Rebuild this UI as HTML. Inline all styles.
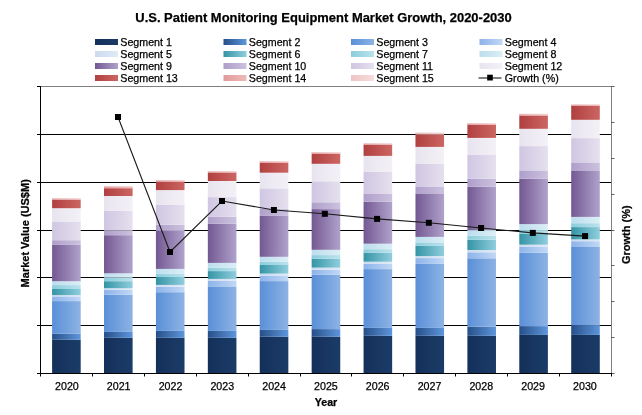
<!DOCTYPE html>
<html lang="en"><head><meta charset="utf-8"><title>U.S. Patient Monitoring Equipment Market Growth, 2020-2030</title>
<style>html,body{margin:0;padding:0;background:#fff}body{width:642px;height:415px;overflow:hidden}svg{display:block}text{font-family:"Liberation Sans",Arial,sans-serif;fill:#000;stroke:#000;stroke-width:0.25px}.b{font-weight:bold}</style></head><body>
<svg width="642" height="415" viewBox="0 0 642 415">
<defs>
<linearGradient id="g1" x1="0" y1="0" x2="1" y2="0"><stop offset="0" stop-color="#14305a"/><stop offset="1" stop-color="#1b3c68"/></linearGradient>
<linearGradient id="g2" x1="0" y1="0" x2="1" y2="0"><stop offset="0" stop-color="#264f88"/><stop offset="1" stop-color="#5e96dc"/></linearGradient>
<linearGradient id="g3" x1="0" y1="0" x2="1" y2="0"><stop offset="0" stop-color="#5a8fd8"/><stop offset="1" stop-color="#8db3e4"/></linearGradient>
<linearGradient id="g4" x1="0" y1="0" x2="1" y2="0"><stop offset="0" stop-color="#8cb3ea"/><stop offset="1" stop-color="#c2d8f6"/></linearGradient>
<linearGradient id="g5" x1="0" y1="0" x2="1" y2="0"><stop offset="0" stop-color="#cbdaee"/><stop offset="1" stop-color="#e0eaf7"/></linearGradient>
<linearGradient id="g6" x1="0" y1="0" x2="1" y2="0"><stop offset="0" stop-color="#3494a4"/><stop offset="1" stop-color="#90cede"/></linearGradient>
<linearGradient id="g7" x1="0" y1="0" x2="1" y2="0"><stop offset="0" stop-color="#8ccddc"/><stop offset="1" stop-color="#bae2ec"/></linearGradient>
<linearGradient id="g8" x1="0" y1="0" x2="1" y2="0"><stop offset="0" stop-color="#bcdeee"/><stop offset="1" stop-color="#dceef6"/></linearGradient>
<linearGradient id="g9" x1="0" y1="0" x2="1" y2="0"><stop offset="0" stop-color="#735892"/><stop offset="1" stop-color="#b0a2cb"/></linearGradient>
<linearGradient id="g10" x1="0" y1="0" x2="1" y2="0"><stop offset="0" stop-color="#ae9eca"/><stop offset="1" stop-color="#ccc2de"/></linearGradient>
<linearGradient id="g11" x1="0" y1="0" x2="1" y2="0"><stop offset="0" stop-color="#d0c6e2"/><stop offset="1" stop-color="#e5e0ee"/></linearGradient>
<linearGradient id="g12" x1="0" y1="0" x2="1" y2="0"><stop offset="0" stop-color="#e8e4ef"/><stop offset="1" stop-color="#f3f1f6"/></linearGradient>
<linearGradient id="g13" x1="0" y1="0" x2="1" y2="0"><stop offset="0" stop-color="#b04040"/><stop offset="1" stop-color="#cc6662"/></linearGradient>
<linearGradient id="g14" x1="0" y1="0" x2="1" y2="0"><stop offset="0" stop-color="#e29a9a"/><stop offset="1" stop-color="#eebaba"/></linearGradient>
<linearGradient id="g15" x1="0" y1="0" x2="1" y2="0"><stop offset="0" stop-color="#eec4c4"/><stop offset="1" stop-color="#f7dddd"/></linearGradient>
</defs>
<rect width="642" height="415" fill="#fff"/>
<text class="b" x="323.5" y="21.9" font-size="13.3" textLength="376.4" lengthAdjust="spacingAndGlyphs" text-anchor="middle">U.S. Patient Monitoring Equipment Market Growth, 2020-2030</text>
<rect x="95" y="39" width="23" height="6" fill="url(#g1)"/>
<text x="120.3" y="45.5" font-size="10.67">Segment 1</text>
<rect x="223.5" y="39" width="23" height="6" fill="url(#g2)"/>
<text x="248.8" y="45.5" font-size="10.67">Segment 2</text>
<rect x="351" y="39" width="23" height="6" fill="url(#g3)"/>
<text x="376.3" y="45.5" font-size="10.67">Segment 3</text>
<rect x="479.5" y="39" width="23" height="6" fill="url(#g4)"/>
<text x="504.8" y="45.5" font-size="10.67">Segment 4</text>
<rect x="95" y="51" width="23" height="6" fill="url(#g5)"/>
<text x="120.3" y="57.5" font-size="10.67">Segment 5</text>
<rect x="223.5" y="51" width="23" height="6" fill="url(#g6)"/>
<text x="248.8" y="57.5" font-size="10.67">Segment 6</text>
<rect x="351" y="51" width="23" height="6" fill="url(#g7)"/>
<text x="376.3" y="57.5" font-size="10.67">Segment 7</text>
<rect x="479.5" y="51" width="23" height="6" fill="url(#g8)"/>
<text x="504.8" y="57.5" font-size="10.67">Segment 8</text>
<rect x="95" y="63" width="23" height="6" fill="url(#g9)"/>
<text x="120.3" y="69.5" font-size="10.67">Segment 9</text>
<rect x="223.5" y="63" width="23" height="6" fill="url(#g10)"/>
<text x="248.8" y="69.5" font-size="10.67">Segment 10</text>
<rect x="351" y="63" width="23" height="6" fill="url(#g11)"/>
<text x="376.3" y="69.5" font-size="10.67">Segment 11</text>
<rect x="479.5" y="63" width="23" height="6" fill="url(#g12)"/>
<text x="504.8" y="69.5" font-size="10.67">Segment 12</text>
<rect x="95" y="75" width="23" height="6" fill="url(#g13)"/>
<text x="120.3" y="81.5" font-size="10.67">Segment 13</text>
<rect x="223.5" y="75" width="23" height="6" fill="url(#g14)"/>
<text x="248.8" y="81.5" font-size="10.67">Segment 14</text>
<rect x="351" y="75" width="23" height="6" fill="url(#g15)"/>
<text x="376.3" y="81.5" font-size="10.67">Segment 15</text>
<line x1="478.5" y1="78" x2="501.5" y2="78" stroke="#000" stroke-width="1"/>
<rect x="487.2" y="74.7" width="5.6" height="5.8" fill="#000"/>
<text x="504.8" y="81.5" font-size="10.67">Growth (%)</text>
<line x1="40" y1="86.5" x2="612" y2="86.5" stroke="#808080" stroke-width="1"/>
<line x1="611.5" y1="86" x2="611.5" y2="374" stroke="#808080" stroke-width="1"/>
<line x1="40" y1="134.50" x2="611" y2="134.50" stroke="#000" stroke-width="1"/>
<line x1="40" y1="182.50" x2="611" y2="182.50" stroke="#000" stroke-width="1"/>
<line x1="40" y1="230.50" x2="611" y2="230.50" stroke="#000" stroke-width="1"/>
<line x1="40" y1="277.50" x2="611" y2="277.50" stroke="#000" stroke-width="1"/>
<line x1="40" y1="325.50" x2="611" y2="325.50" stroke="#000" stroke-width="1"/>
<rect x="52.10" y="339.80" width="28.6" height="33.20" fill="url(#g1)"/>
<rect x="52.10" y="333.80" width="28.6" height="6.00" fill="url(#g2)"/>
<rect x="52.10" y="301.10" width="28.6" height="32.70" fill="url(#g3)"/>
<rect x="52.10" y="296.40" width="28.6" height="4.70" fill="url(#g4)"/>
<rect x="52.10" y="295.10" width="28.6" height="1.30" fill="url(#g5)"/>
<rect x="52.10" y="289.00" width="28.6" height="6.10" fill="url(#g6)"/>
<rect x="52.10" y="285.10" width="28.6" height="3.90" fill="url(#g7)"/>
<rect x="52.10" y="281.20" width="28.6" height="3.90" fill="url(#g8)"/>
<rect x="52.10" y="244.90" width="28.6" height="36.30" fill="url(#g9)"/>
<rect x="52.10" y="240.20" width="28.6" height="4.70" fill="url(#g10)"/>
<rect x="52.10" y="222.00" width="28.6" height="18.20" fill="url(#g11)"/>
<rect x="52.10" y="208.20" width="28.6" height="13.80" fill="url(#g12)"/>
<rect x="52.10" y="199.90" width="28.6" height="8.30" fill="url(#g13)"/>
<rect x="52.10" y="198.00" width="28.6" height="1.90" fill="url(#g14)"/>
<rect x="52.10" y="198.00" width="28.6" height="0.95" fill="url(#g15)"/>
<rect x="104.01" y="337.80" width="28.6" height="35.20" fill="url(#g1)"/>
<rect x="104.01" y="331.90" width="28.6" height="5.90" fill="url(#g2)"/>
<rect x="104.01" y="294.80" width="28.6" height="37.10" fill="url(#g3)"/>
<rect x="104.01" y="289.80" width="28.6" height="5.00" fill="url(#g4)"/>
<rect x="104.01" y="288.20" width="28.6" height="1.60" fill="url(#g5)"/>
<rect x="104.01" y="281.20" width="28.6" height="7.00" fill="url(#g6)"/>
<rect x="104.01" y="277.60" width="28.6" height="3.60" fill="url(#g7)"/>
<rect x="104.01" y="273.30" width="28.6" height="4.30" fill="url(#g8)"/>
<rect x="104.01" y="235.20" width="28.6" height="38.10" fill="url(#g9)"/>
<rect x="104.01" y="230.50" width="28.6" height="4.70" fill="url(#g10)"/>
<rect x="104.01" y="210.90" width="28.6" height="19.60" fill="url(#g11)"/>
<rect x="104.01" y="196.00" width="28.6" height="14.90" fill="url(#g12)"/>
<rect x="104.01" y="188.20" width="28.6" height="7.80" fill="url(#g13)"/>
<rect x="104.01" y="186.30" width="28.6" height="1.90" fill="url(#g14)"/>
<rect x="104.01" y="186.30" width="28.6" height="0.95" fill="url(#g15)"/>
<rect x="155.92" y="337.80" width="28.6" height="35.20" fill="url(#g1)"/>
<rect x="155.92" y="330.90" width="28.6" height="6.90" fill="url(#g2)"/>
<rect x="155.92" y="292.20" width="28.6" height="38.70" fill="url(#g3)"/>
<rect x="155.92" y="286.70" width="28.6" height="5.50" fill="url(#g4)"/>
<rect x="155.92" y="284.90" width="28.6" height="1.80" fill="url(#g5)"/>
<rect x="155.92" y="277.00" width="28.6" height="7.90" fill="url(#g6)"/>
<rect x="155.92" y="273.90" width="28.6" height="3.10" fill="url(#g7)"/>
<rect x="155.92" y="268.90" width="28.6" height="5.00" fill="url(#g8)"/>
<rect x="155.92" y="230.90" width="28.6" height="38.00" fill="url(#g9)"/>
<rect x="155.92" y="224.80" width="28.6" height="6.10" fill="url(#g10)"/>
<rect x="155.92" y="205.00" width="28.6" height="19.80" fill="url(#g11)"/>
<rect x="155.92" y="190.10" width="28.6" height="14.90" fill="url(#g12)"/>
<rect x="155.92" y="181.50" width="28.6" height="8.60" fill="url(#g13)"/>
<rect x="155.92" y="180.20" width="28.6" height="1.30" fill="url(#g14)"/>
<rect x="155.92" y="180.20" width="28.6" height="0.65" fill="url(#g15)"/>
<rect x="207.83" y="337.80" width="28.6" height="35.20" fill="url(#g1)"/>
<rect x="207.83" y="330.90" width="28.6" height="6.90" fill="url(#g2)"/>
<rect x="207.83" y="286.40" width="28.6" height="44.50" fill="url(#g3)"/>
<rect x="207.83" y="280.90" width="28.6" height="5.50" fill="url(#g4)"/>
<rect x="207.83" y="278.90" width="28.6" height="2.00" fill="url(#g5)"/>
<rect x="207.83" y="271.10" width="28.6" height="7.80" fill="url(#g6)"/>
<rect x="207.83" y="267.60" width="28.6" height="3.50" fill="url(#g7)"/>
<rect x="207.83" y="262.90" width="28.6" height="4.70" fill="url(#g8)"/>
<rect x="207.83" y="223.60" width="28.6" height="39.30" fill="url(#g9)"/>
<rect x="207.83" y="216.80" width="28.6" height="6.80" fill="url(#g10)"/>
<rect x="207.83" y="197.10" width="28.6" height="19.70" fill="url(#g11)"/>
<rect x="207.83" y="181.00" width="28.6" height="16.10" fill="url(#g12)"/>
<rect x="207.83" y="172.50" width="28.6" height="8.50" fill="url(#g13)"/>
<rect x="207.83" y="171.30" width="28.6" height="1.20" fill="url(#g14)"/>
<rect x="207.83" y="171.30" width="28.6" height="0.60" fill="url(#g15)"/>
<rect x="259.74" y="336.80" width="28.6" height="36.20" fill="url(#g1)"/>
<rect x="259.74" y="329.90" width="28.6" height="6.90" fill="url(#g2)"/>
<rect x="259.74" y="281.10" width="28.6" height="48.80" fill="url(#g3)"/>
<rect x="259.74" y="275.50" width="28.6" height="5.60" fill="url(#g4)"/>
<rect x="259.74" y="273.60" width="28.6" height="1.90" fill="url(#g5)"/>
<rect x="259.74" y="265.00" width="28.6" height="8.60" fill="url(#g6)"/>
<rect x="259.74" y="261.80" width="28.6" height="3.20" fill="url(#g7)"/>
<rect x="259.74" y="256.80" width="28.6" height="5.00" fill="url(#g8)"/>
<rect x="259.74" y="215.90" width="28.6" height="40.90" fill="url(#g9)"/>
<rect x="259.74" y="208.80" width="28.6" height="7.10" fill="url(#g10)"/>
<rect x="259.74" y="188.40" width="28.6" height="20.40" fill="url(#g11)"/>
<rect x="259.74" y="172.70" width="28.6" height="15.70" fill="url(#g12)"/>
<rect x="259.74" y="162.90" width="28.6" height="9.80" fill="url(#g13)"/>
<rect x="259.74" y="161.00" width="28.6" height="1.90" fill="url(#g14)"/>
<rect x="259.74" y="161.00" width="28.6" height="0.95" fill="url(#g15)"/>
<rect x="311.65" y="336.80" width="28.6" height="36.20" fill="url(#g1)"/>
<rect x="311.65" y="329.10" width="28.6" height="7.70" fill="url(#g2)"/>
<rect x="311.65" y="274.80" width="28.6" height="54.30" fill="url(#g3)"/>
<rect x="311.65" y="269.70" width="28.6" height="5.10" fill="url(#g4)"/>
<rect x="311.65" y="267.60" width="28.6" height="2.10" fill="url(#g5)"/>
<rect x="311.65" y="258.70" width="28.6" height="8.90" fill="url(#g6)"/>
<rect x="311.65" y="255.10" width="28.6" height="3.60" fill="url(#g7)"/>
<rect x="311.65" y="249.80" width="28.6" height="5.30" fill="url(#g8)"/>
<rect x="311.65" y="209.10" width="28.6" height="40.70" fill="url(#g9)"/>
<rect x="311.65" y="202.30" width="28.6" height="6.80" fill="url(#g10)"/>
<rect x="311.65" y="181.30" width="28.6" height="21.00" fill="url(#g11)"/>
<rect x="311.65" y="163.80" width="28.6" height="17.50" fill="url(#g12)"/>
<rect x="311.65" y="153.90" width="28.6" height="9.90" fill="url(#g13)"/>
<rect x="311.65" y="152.00" width="28.6" height="1.90" fill="url(#g14)"/>
<rect x="311.65" y="152.00" width="28.6" height="0.95" fill="url(#g15)"/>
<rect x="363.56" y="335.80" width="28.6" height="37.20" fill="url(#g1)"/>
<rect x="363.56" y="327.90" width="28.6" height="7.90" fill="url(#g2)"/>
<rect x="363.56" y="269.10" width="28.6" height="58.80" fill="url(#g3)"/>
<rect x="363.56" y="263.90" width="28.6" height="5.20" fill="url(#g4)"/>
<rect x="363.56" y="261.70" width="28.6" height="2.20" fill="url(#g5)"/>
<rect x="363.56" y="252.60" width="28.6" height="9.10" fill="url(#g6)"/>
<rect x="363.56" y="249.20" width="28.6" height="3.40" fill="url(#g7)"/>
<rect x="363.56" y="243.70" width="28.6" height="5.50" fill="url(#g8)"/>
<rect x="363.56" y="201.80" width="28.6" height="41.90" fill="url(#g9)"/>
<rect x="363.56" y="194.00" width="28.6" height="7.80" fill="url(#g10)"/>
<rect x="363.56" y="171.80" width="28.6" height="22.20" fill="url(#g11)"/>
<rect x="363.56" y="155.90" width="28.6" height="15.90" fill="url(#g12)"/>
<rect x="363.56" y="144.60" width="28.6" height="11.30" fill="url(#g13)"/>
<rect x="363.56" y="143.50" width="28.6" height="1.10" fill="url(#g14)"/>
<rect x="363.56" y="143.50" width="28.6" height="0.55" fill="url(#g15)"/>
<rect x="415.47" y="335.80" width="28.6" height="37.20" fill="url(#g1)"/>
<rect x="415.47" y="327.90" width="28.6" height="7.90" fill="url(#g2)"/>
<rect x="415.47" y="263.90" width="28.6" height="64.00" fill="url(#g3)"/>
<rect x="415.47" y="258.10" width="28.6" height="5.80" fill="url(#g4)"/>
<rect x="415.47" y="256.10" width="28.6" height="2.00" fill="url(#g5)"/>
<rect x="415.47" y="245.90" width="28.6" height="10.20" fill="url(#g6)"/>
<rect x="415.47" y="242.40" width="28.6" height="3.50" fill="url(#g7)"/>
<rect x="415.47" y="236.90" width="28.6" height="5.50" fill="url(#g8)"/>
<rect x="415.47" y="194.00" width="28.6" height="42.90" fill="url(#g9)"/>
<rect x="415.47" y="187.00" width="28.6" height="7.00" fill="url(#g10)"/>
<rect x="415.47" y="163.90" width="28.6" height="23.10" fill="url(#g11)"/>
<rect x="415.47" y="146.90" width="28.6" height="17.00" fill="url(#g12)"/>
<rect x="415.47" y="134.70" width="28.6" height="12.20" fill="url(#g13)"/>
<rect x="415.47" y="132.80" width="28.6" height="1.90" fill="url(#g14)"/>
<rect x="415.47" y="132.80" width="28.6" height="0.95" fill="url(#g15)"/>
<rect x="467.38" y="335.80" width="28.6" height="37.20" fill="url(#g1)"/>
<rect x="467.38" y="326.60" width="28.6" height="9.20" fill="url(#g2)"/>
<rect x="467.38" y="258.30" width="28.6" height="68.30" fill="url(#g3)"/>
<rect x="467.38" y="252.30" width="28.6" height="6.00" fill="url(#g4)"/>
<rect x="467.38" y="250.00" width="28.6" height="2.30" fill="url(#g5)"/>
<rect x="467.38" y="239.80" width="28.6" height="10.20" fill="url(#g6)"/>
<rect x="467.38" y="235.90" width="28.6" height="3.90" fill="url(#g7)"/>
<rect x="467.38" y="230.10" width="28.6" height="5.80" fill="url(#g8)"/>
<rect x="467.38" y="186.80" width="28.6" height="43.30" fill="url(#g9)"/>
<rect x="467.38" y="178.70" width="28.6" height="8.10" fill="url(#g10)"/>
<rect x="467.38" y="155.00" width="28.6" height="23.70" fill="url(#g11)"/>
<rect x="467.38" y="137.90" width="28.6" height="17.10" fill="url(#g12)"/>
<rect x="467.38" y="124.90" width="28.6" height="13.00" fill="url(#g13)"/>
<rect x="467.38" y="123.00" width="28.6" height="1.90" fill="url(#g14)"/>
<rect x="467.38" y="123.00" width="28.6" height="0.95" fill="url(#g15)"/>
<rect x="519.29" y="334.90" width="28.6" height="38.10" fill="url(#g1)"/>
<rect x="519.29" y="326.10" width="28.6" height="8.80" fill="url(#g2)"/>
<rect x="519.29" y="252.80" width="28.6" height="73.30" fill="url(#g3)"/>
<rect x="519.29" y="247.00" width="28.6" height="5.80" fill="url(#g4)"/>
<rect x="519.29" y="244.70" width="28.6" height="2.30" fill="url(#g5)"/>
<rect x="519.29" y="234.00" width="28.6" height="10.70" fill="url(#g6)"/>
<rect x="519.29" y="230.10" width="28.6" height="3.90" fill="url(#g7)"/>
<rect x="519.29" y="224.10" width="28.6" height="6.00" fill="url(#g8)"/>
<rect x="519.29" y="178.70" width="28.6" height="45.40" fill="url(#g9)"/>
<rect x="519.29" y="170.40" width="28.6" height="8.30" fill="url(#g10)"/>
<rect x="519.29" y="146.10" width="28.6" height="24.30" fill="url(#g11)"/>
<rect x="519.29" y="128.80" width="28.6" height="17.30" fill="url(#g12)"/>
<rect x="519.29" y="115.50" width="28.6" height="13.30" fill="url(#g13)"/>
<rect x="519.29" y="113.90" width="28.6" height="1.60" fill="url(#g14)"/>
<rect x="519.29" y="113.90" width="28.6" height="0.80" fill="url(#g15)"/>
<rect x="571.20" y="334.90" width="28.6" height="38.10" fill="url(#g1)"/>
<rect x="571.20" y="325.10" width="28.6" height="9.80" fill="url(#g2)"/>
<rect x="571.20" y="247.00" width="28.6" height="78.10" fill="url(#g3)"/>
<rect x="571.20" y="241.20" width="28.6" height="5.80" fill="url(#g4)"/>
<rect x="571.20" y="239.40" width="28.6" height="1.80" fill="url(#g5)"/>
<rect x="571.20" y="227.10" width="28.6" height="12.30" fill="url(#g6)"/>
<rect x="571.20" y="223.20" width="28.6" height="3.90" fill="url(#g7)"/>
<rect x="571.20" y="216.90" width="28.6" height="6.30" fill="url(#g8)"/>
<rect x="571.20" y="171.00" width="28.6" height="45.90" fill="url(#g9)"/>
<rect x="571.20" y="162.40" width="28.6" height="8.60" fill="url(#g10)"/>
<rect x="571.20" y="138.10" width="28.6" height="24.30" fill="url(#g11)"/>
<rect x="571.20" y="119.80" width="28.6" height="18.30" fill="url(#g12)"/>
<rect x="571.20" y="105.60" width="28.6" height="14.20" fill="url(#g13)"/>
<rect x="571.20" y="104.60" width="28.6" height="1.00" fill="url(#g14)"/>
<rect x="571.20" y="104.60" width="28.6" height="0.50" fill="url(#g15)"/>
<line x1="40.5" y1="86" x2="40.5" y2="374" stroke="#000" stroke-width="1"/>
<line x1="37" y1="373.5" x2="612" y2="373.5" stroke="#000" stroke-width="1"/>
<line x1="37" y1="86.50" x2="41" y2="86.50" stroke="#000" stroke-width="1"/>
<line x1="37" y1="134.50" x2="41" y2="134.50" stroke="#000" stroke-width="1"/>
<line x1="37" y1="182.50" x2="41" y2="182.50" stroke="#000" stroke-width="1"/>
<line x1="37" y1="230.50" x2="41" y2="230.50" stroke="#000" stroke-width="1"/>
<line x1="37" y1="277.50" x2="41" y2="277.50" stroke="#000" stroke-width="1"/>
<line x1="37" y1="325.50" x2="41" y2="325.50" stroke="#000" stroke-width="1"/>
<line x1="37" y1="373.50" x2="41" y2="373.50" stroke="#000" stroke-width="1"/>
<line x1="611" y1="86.50" x2="614.5" y2="86.50" stroke="#606060" stroke-width="1"/>
<line x1="611" y1="122.50" x2="614.5" y2="122.50" stroke="#606060" stroke-width="1"/>
<line x1="611" y1="158.50" x2="614.5" y2="158.50" stroke="#606060" stroke-width="1"/>
<line x1="611" y1="194.50" x2="614.5" y2="194.50" stroke="#606060" stroke-width="1"/>
<line x1="611" y1="230.50" x2="614.5" y2="230.50" stroke="#606060" stroke-width="1"/>
<line x1="611" y1="265.50" x2="614.5" y2="265.50" stroke="#606060" stroke-width="1"/>
<line x1="611" y1="301.50" x2="614.5" y2="301.50" stroke="#606060" stroke-width="1"/>
<line x1="611" y1="337.50" x2="614.5" y2="337.50" stroke="#606060" stroke-width="1"/>
<line x1="611" y1="373.50" x2="614.5" y2="373.50" stroke="#606060" stroke-width="1"/>
<line x1="40.50" y1="373" x2="40.50" y2="376.5" stroke="#000" stroke-width="1"/>
<line x1="92.50" y1="373" x2="92.50" y2="376.5" stroke="#000" stroke-width="1"/>
<line x1="144.50" y1="373" x2="144.50" y2="376.5" stroke="#000" stroke-width="1"/>
<line x1="196.50" y1="373" x2="196.50" y2="376.5" stroke="#000" stroke-width="1"/>
<line x1="248.50" y1="373" x2="248.50" y2="376.5" stroke="#000" stroke-width="1"/>
<line x1="300.50" y1="373" x2="300.50" y2="376.5" stroke="#000" stroke-width="1"/>
<line x1="351.50" y1="373" x2="351.50" y2="376.5" stroke="#000" stroke-width="1"/>
<line x1="403.50" y1="373" x2="403.50" y2="376.5" stroke="#000" stroke-width="1"/>
<line x1="455.50" y1="373" x2="455.50" y2="376.5" stroke="#000" stroke-width="1"/>
<line x1="507.50" y1="373" x2="507.50" y2="376.5" stroke="#000" stroke-width="1"/>
<line x1="559.50" y1="373" x2="559.50" y2="376.5" stroke="#000" stroke-width="1"/>
<line x1="611.50" y1="373" x2="611.50" y2="376.5" stroke="#000" stroke-width="1"/>
<polyline points="118,117 170,252 222,201 273.9,210 324.8,213.8 377.1,218.9 428.8,222.8 481.1,228 532.8,232.9 585.1,236.1" fill="none" stroke="#1a1a1a" stroke-width="1.1"/>
<rect x="115" y="114" width="6" height="6" fill="#000"/>
<rect x="167" y="249" width="6" height="6" fill="#000"/>
<rect x="219" y="198" width="6" height="6" fill="#000"/>
<rect x="270.9" y="207" width="6" height="6" fill="#000"/>
<rect x="321.8" y="210.8" width="6" height="6" fill="#000"/>
<rect x="374.1" y="215.9" width="6" height="6" fill="#000"/>
<rect x="425.8" y="219.8" width="6" height="6" fill="#000"/>
<rect x="478.1" y="225" width="6" height="6" fill="#000"/>
<rect x="529.8" y="229.9" width="6" height="6" fill="#000"/>
<rect x="582.1" y="233.1" width="6" height="6" fill="#000"/>
<text x="66.90" y="390.2" font-size="10.67" text-anchor="middle">2020</text>
<text x="118.70" y="390.2" font-size="10.67" text-anchor="middle">2021</text>
<text x="170.50" y="390.2" font-size="10.67" text-anchor="middle">2022</text>
<text x="222.30" y="390.2" font-size="10.67" text-anchor="middle">2023</text>
<text x="274.10" y="390.2" font-size="10.67" text-anchor="middle">2024</text>
<text x="325.90" y="390.2" font-size="10.67" text-anchor="middle">2025</text>
<text x="377.70" y="390.2" font-size="10.67" text-anchor="middle">2026</text>
<text x="429.50" y="390.2" font-size="10.67" text-anchor="middle">2027</text>
<text x="481.30" y="390.2" font-size="10.67" text-anchor="middle">2028</text>
<text x="533.10" y="390.2" font-size="10.67" text-anchor="middle">2029</text>
<text x="584.90" y="390.2" font-size="10.67" text-anchor="middle">2030</text>
<text class="b" x="326" y="406" font-size="10.67" text-anchor="middle">Year</text>
<text class="b" transform="translate(29.3,233.3) rotate(-90)" font-size="11" text-anchor="middle">Market Value (US$M)</text>
<text class="b" transform="translate(630.2,234.7) rotate(-90)" font-size="11" text-anchor="middle">Growth (%)</text>
</svg></body></html>
